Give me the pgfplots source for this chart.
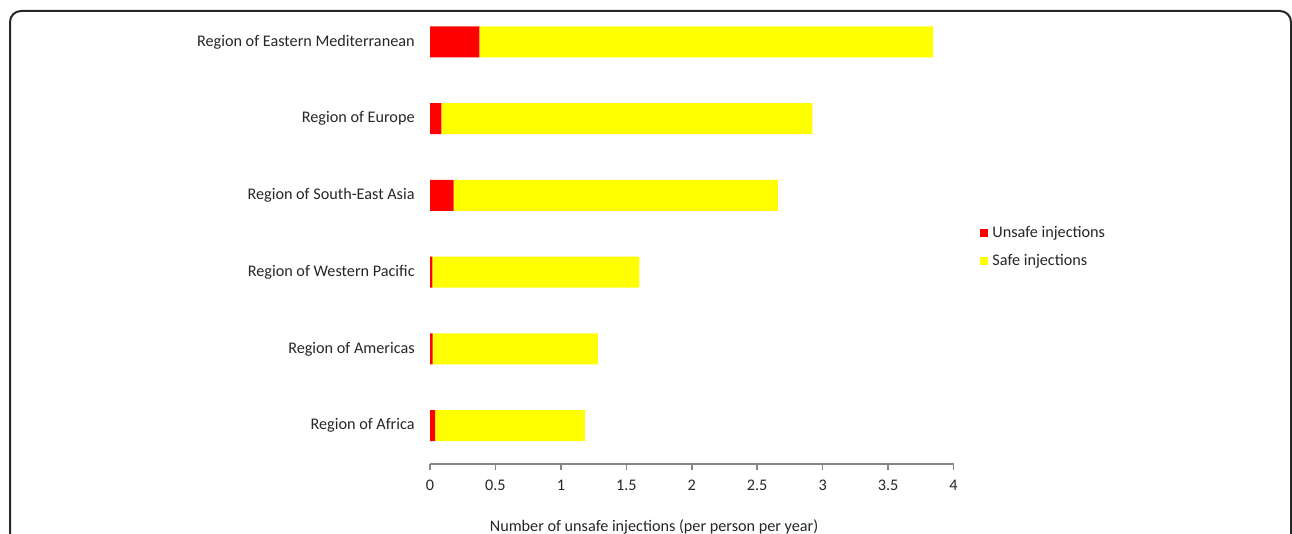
\documentclass[border=0pt]{standalone}
\usepackage{pgfplots}
\pgfplotsset{compat=1.18}
\usepackage{fontspec}
\setmainfont{Carlito}
\definecolor{txt}{RGB}{38,38,38}
\definecolor{axisgray}{RGB}{134,134,134}
\definecolor{unsafe}{RGB}{255,0,0}
\definecolor{safe}{RGB}{255,255,0}
\begin{document}
\begin{tikzpicture}[x=0.5pt,y=0.5pt]
	% picture is 1292 x 534 "px", 1 px = 0.5pt
	\path[use as bounding box] (0,0) rectangle (1292,534);
	\clip (0,0) rectangle (1292,534);
	\draw[line width=1pt, rounded corners=5.5pt, black!85] (10,-40) rectangle (1291,523);
	\begin{axis}[
		at={(215pt,35pt)}, anchor=south west,
		scale only axis, width=261.75pt, height=230.2pt,
		xbar stacked, bar width=15.5pt,
		xmin=0, xmax=4, ymin=-0.5, ymax=5.5,
		xtick={0,0.5,...,4},
		ytick={0,...,5},
		yticklabels={Region of Africa, Region of Americas, Region of Western Pacific, Region of South-East Asia, Region of Europe, Region of Eastern Mediterranean},
		axis x line*=bottom, axis y line*=left,
		x axis line style={axisgray, line width=0.8pt, -},
		y axis line style={draw=none},
		xtick style={axisgray, line width=0.8pt},
		ytick style={draw=none},
		tick align=outside, major tick length=3pt,
		/pgf/number format/assume math mode=true,
		tick label style={font=\fontsize{8.1}{9.7}\selectfont, text=txt},
		yticklabel style={inner sep=0pt, xshift=-4.5pt},
		xticklabel style={yshift=-1.5pt},
		xlabel={Number of unsafe injections (per person per year)},
		xlabel style={font=\fontsize{8.1}{9.7}\selectfont, text=txt, at={(axis description cs:0.428,0)}, anchor=center, yshift=-31.5pt},
		legend style={at={(axis description cs:1.05,0.471)}, anchor=west, draw=none, fill=none,
			font=\fontsize{8.1}{9.7}\selectfont, text=txt, row sep=3pt, inner sep=0pt},
		legend cell align=left,
		legend image code/.code={\fill[#1] (0pt,-2.1pt) rectangle (4.2pt,2.1pt);},
	]
	\addplot[fill=unsafe, draw=none] coordinates {
		(0.040,0) (0.020,1) (0.018,2) (0.180,3) (0.087,4) (0.377,5)};
	\addlegendentry{Unsafe injections}
	\addplot[fill=safe, draw=none] coordinates {
		(1.143,0) (1.262,1) (1.582,2) (2.479,3) (2.835,4) (3.468,5)};
	\addlegendentry{Safe injections}
	\end{axis}
\end{tikzpicture}
\end{document}
